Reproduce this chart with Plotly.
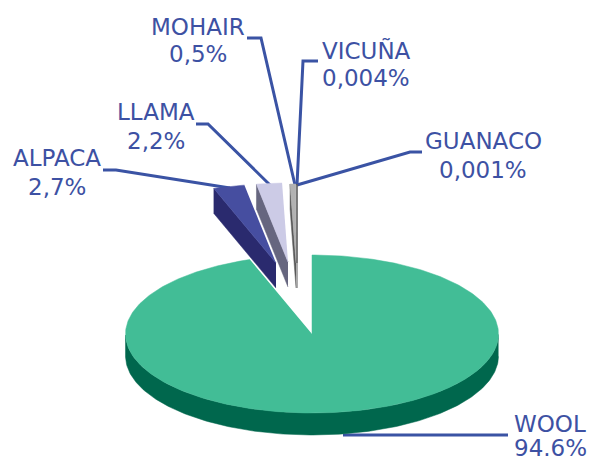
import numpy as np
import plotly.graph_objects as go

names = ["WOOL", "ALPACA", "LLAMA", "MOHAIR", "VICUÑA", "GUANACO"]
values = [94.6, 2.7, 2.2, 0.5, 0.004, 0.001]
value_labels = ["94.6%", "2,7%", "2,2%", "0,5%", "0,004%", "0,001%"]

top_colors = ["#42BD96", "#464EA0", "#CCCBE6", "#B2B2B2", "#8A8A8A", "#8A8A8A"]
side_colors = ["#00674D", "#2A2A6E", "#66667F", "#595959", "#404040", "#404040"]
text_color = "#3D51A3"
line_color = "#3A53A4"

# pie geometry in pixel-space axes
CX, CY, RX, RY = 312.0, 334.0, 186.5, 79.0
# apex position of each slice, i.e. the explosion
apex_x = [312, 276, 288, 296, 297, 297]
apex_y = [334, 263, 262, 263, 263, 263]
side_depth = [22, 25, 25, 25, 25, 25]

name_x = [550, 57, 156, 198, 366, 483]
name_y = [424, 158, 112, 27, 50, 141]
value_x = [550, 57, 156, 198, 366, 483]
value_y = [448, 187, 141, 54, 78, 170]
leader_x = [[343, 508], [230, 116, 103], [270, 208, 196], [295, 261, 247], [297, 303, 318], [297, 410, 422]]
leader_y = [[435, 435], [188, 170, 170], [185, 124, 124], [185, 38, 38], [185, 61, 61], [185, 152, 152]]


def ell(theta, ax, ay):
    return ax + RX * np.sin(theta), ay - RY * np.cos(theta)


fig = go.Figure()


def poly(xs, ys, color):
    fig.add_trace(go.Scatter(x=list(xs), y=list(ys), mode="lines", fill="toself", fillcolor=color,
                             line=dict(color=color, width=0.5), hoverinfo="skip", showlegend=False))


# leader lines sit underneath the slices
for lx, ly in zip(leader_x, leader_y):
    fig.add_trace(go.Scatter(x=lx, y=ly, mode="lines", line=dict(color=line_color, width=3),
                             hoverinfo="skip", showlegend=False))

total = sum(values)
start = 0.0
for i, v in enumerate(values):
    end = start + v / total * 2 * np.pi
    # slices run clockwise from twelve o'clock
    t = np.linspace(start, end, max(3, int(v * 4)))
    ax, ay = apex_x[i], apex_y[i]
    px, py = ell(t, ax, ay)
    d = side_depth[i]
    if i == 0:
        # front rim of the big slice
        f = t[(t >= np.pi / 2) & (t <= 3 * np.pi / 2)]
        fx, fy = ell(f, ax, ay)
        poly(np.r_[fx, fx[::-1]], np.r_[fy, fy[::-1] + d], side_colors[i])
    else:
        # cut face towards the viewer's left
        poly([ax, px[0], px[0], ax], [ay, py[0], py[0] + d, ay + d], side_colors[i])
    poly(np.r_[ax, px], np.r_[ay, py], top_colors[i])
    start = end

font = dict(family="DejaVu Sans", size=23, color=text_color)
annotations = [
    dict(x=x, y=y, xref="x", yref="y", text=s, showarrow=False, font=font, align="center")
    for s, x, y in zip(names + value_labels, name_x + value_x, name_y + value_y)
]

fig.update_layout(
    width=589, height=461, margin=dict(l=0, r=0, t=0, b=0),
    paper_bgcolor="white", plot_bgcolor="white", showlegend=False,
    xaxis=dict(range=[0, 589], visible=False, fixedrange=True),
    yaxis=dict(range=[461, 0], visible=False, fixedrange=True),
    annotations=annotations,
)
fig.write_html("out.html", config={"displayModeBar": False},
               post_script="document.body.style.margin='0';document.body.style.overflow='hidden';")
